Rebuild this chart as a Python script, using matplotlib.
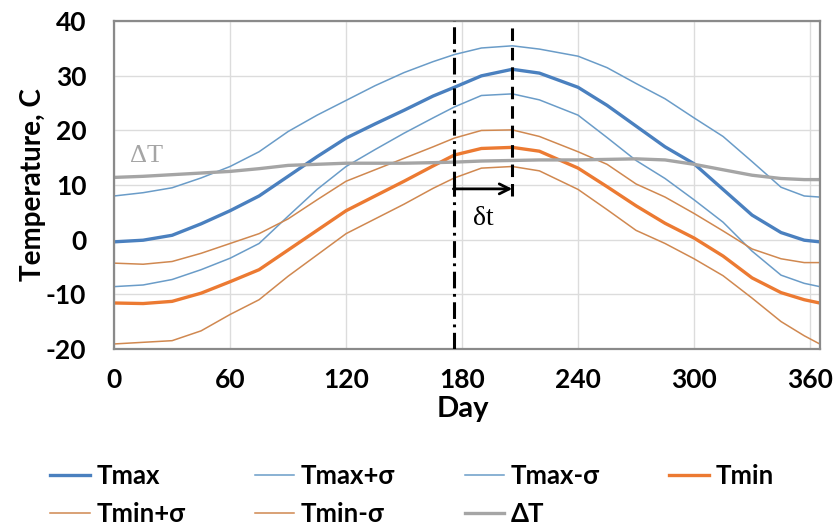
import matplotlib
matplotlib.use("Agg")
import matplotlib.pyplot as plt

plt.rcParams['font.family'] = ['Lato', 'DejaVu Sans']
plt.rcParams['lines.scale_dashes'] = False
plt.rcParams['axes.unicode_minus'] = False

days = [0, 15, 30, 45, 60, 75, 90, 105, 120, 135, 150, 165, 176, 190, 206, 220,
        240, 255, 270, 285, 300, 315, 330, 345, 357, 365]

tmax = [-0.4, -0.1, 0.8, 2.9, 5.3, 8.0, 11.6, 15.2, 18.6, 21.2, 23.7, 26.3, 27.9,
        30.0, 31.2, 30.5, 27.9, 24.6, 20.8, 17.0, 13.9, 9.2, 4.5, 1.3, -0.1, -0.4]
tmax_p = [8.0, 8.6, 9.5, 11.3, 13.4, 16.1, 19.8, 22.8, 25.5, 28.2, 30.6, 32.6, 33.9,
          35.1, 35.5, 34.9, 33.6, 31.5, 28.6, 25.8, 22.3, 18.9, 14.3, 9.6, 8.0, 7.8]
tmax_m = [-8.6, -8.3, -7.3, -5.5, -3.4, -0.7, 4.3, 9.2, 13.4, 16.5, 19.5, 22.3, 24.3,
          26.4, 26.7, 25.6, 22.8, 18.7, 14.5, 11.2, 7.3, 3.2, -2.1, -6.5, -8.0, -8.6]
tmin = [-11.6, -11.7, -11.3, -9.8, -7.7, -5.5, -1.9, 1.7, 5.3, 8.0, 10.7, 13.5, 15.5,
        16.7, 16.9, 16.2, 13.1, 9.7, 6.2, 3.0, 0.3, -3.0, -7.0, -9.7, -11.0, -11.6]
tmin_p = [-4.3, -4.5, -4.0, -2.5, -0.7, 1.1, 3.8, 7.3, 10.7, 12.8, 14.9, 17.0, 18.6,
          20.0, 20.1, 18.9, 16.1, 13.8, 10.2, 7.8, 4.8, 1.6, -1.7, -3.5, -4.2, -4.2]
tmin_m = [-19.1, -18.8, -18.5, -16.7, -13.7, -11.0, -6.7, -2.8, 1.1, 3.8, 6.5, 9.4, 11.3,
          13.1, 13.4, 12.6, 9.2, 5.5, 1.7, -0.7, -3.5, -6.6, -10.7, -15.0, -17.6, -19.1]
dT = [11.4, 11.6, 11.9, 12.2, 12.5, 13.0, 13.6, 13.8, 14.0, 14.0, 14.0, 14.1, 14.2,
      14.4, 14.5, 14.6, 14.6, 14.7, 14.8, 14.6, 13.8, 12.8, 11.8, 11.2, 11.0, 11.0]

x_ticks = [0, 60, 120, 180, 240, 300, 360]
y_ticks = [-20, -10, 0, 10, 20, 30, 40]
day_peak_start = 176
day_peak_end = 206
arrow_level = 9.3

blue_thick = '#4a80bf'
blue_thin = '#6a9cc8'
orange_thick = '#ec7a32'
orange_thin = '#d08850'
gray = '#a5a5a5'

fig = plt.figure(figsize=(8.39, 5.31), dpi=100)
ax = fig.add_axes([0.136, 0.343, 0.841, 0.617])

l_tmax, = ax.plot(days, tmax, color=blue_thick, lw=2.4, label='Tmax')
l_tmaxp, = ax.plot(days, tmax_p, color=blue_thin, lw=1.1, label='Tmax+σ')
l_tmaxm, = ax.plot(days, tmax_m, color=blue_thin, lw=1.1, label='Tmax-σ')
l_tmin, = ax.plot(days, tmin, color=orange_thick, lw=2.4, label='Tmin')
l_tminp, = ax.plot(days, tmin_p, color=orange_thin, lw=1.1, label='Tmin+σ')
l_tminm, = ax.plot(days, tmin_m, color=orange_thin, lw=1.1, label='Tmin-σ')
l_dT, = ax.plot(days, dT, color=gray, lw=2.4, label='ΔT')

# vertical markers
ax.plot([day_peak_start, day_peak_start], [-20, 40], color='black', lw=2.2,
        dashes=[12, 4, 2, 4], zorder=5)
ax.plot([day_peak_end, day_peak_end], [8.0, 40], color='black', lw=2.2,
        dashes=[9, 5], zorder=5)
ax.plot([day_peak_start, day_peak_start], [arrow_level, 12.0], color='black', lw=2.2, zorder=6)
ax.annotate('', xy=(day_peak_end, arrow_level), xytext=(day_peak_start - 0.5, arrow_level),
            arrowprops=dict(arrowstyle='->', color='black', lw=2.0,
                            mutation_scale=18, shrinkA=0, shrinkB=0), zorder=6)
ax.text(185.5, 3.8, 'δt', family='Liberation Serif', fontsize=20, color='black',
        va='center', ha='left')
ax.text(8, 15.3, 'ΔT', family='Liberation Serif', fontsize=19, color=gray,
        va='center', ha='left')

ax.set_xlim(0, 365)
ax.set_ylim(-20, 40)
ax.set_xticks(x_ticks)
ax.set_yticks(y_ticks)
ax.grid(True, color='#dcdcdc', lw=1.0)
ax.set_axisbelow(True)
ax.tick_params(axis='both', length=0, labelsize=19)
ax.tick_params(axis='y', pad=20)
ax.tick_params(axis='x', pad=14)
for lab in ax.get_xticklabels() + ax.get_yticklabels():
    lab.set_fontweight('bold')
for s in ax.spines.values():
    s.set_color('#8a8a8a')
    s.set_linewidth(1.6)

ax.set_xlabel('Day', fontsize=21, fontweight='bold')
ax.set_ylabel('Temperature, C', fontsize=20, fontweight='bold')
ax.xaxis.set_label_coords(0.494, -0.143)
ax.yaxis.set_label_coords(-0.097, 0.5)

handles = [l_tmax, l_tminp, l_tmaxp, l_tminm, l_tmaxm, l_dT, l_tmin]
fig.legend(handles=handles, labels=[h.get_label() for h in handles],
           loc='center left', bbox_to_anchor=(0.0596, 0.068), ncol=4, frameon=False,
           prop=dict(weight='bold', size=18.5), handlelength=1.55, handletextpad=0.25,
           columnspacing=2.7, labelspacing=0.55, borderpad=0, borderaxespad=0)

fig.savefig('out.png', dpi=100)
